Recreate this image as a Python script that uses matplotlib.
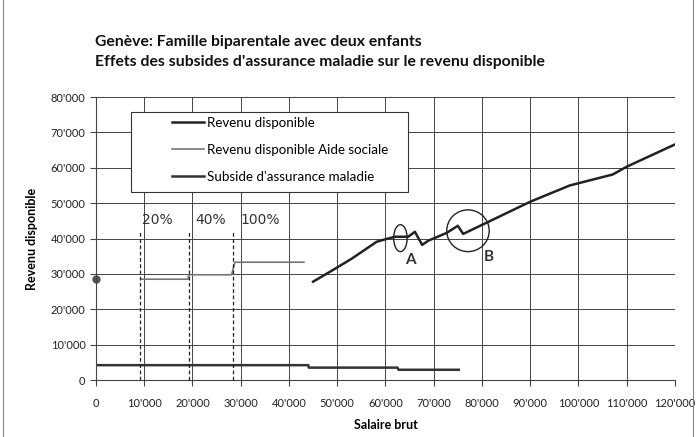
import matplotlib
matplotlib.use("Agg")
import matplotlib.pyplot as plt
from matplotlib.patches import Ellipse, Rectangle
from matplotlib.lines import Line2D
from matplotlib.ticker import FuncFormatter, MultipleLocator

plt.rcParams['font.family'] = ['Lato', 'DejaVu Sans']

# Revenu disponible (salaire brut, revenu)
rd_x = [45000, 48500, 53000, 58200, 60300, 62000, 64700, 66100, 67600, 68900,
        72700, 75000, 76100, 81000, 90000, 98200, 107100, 110000, 120000]
rd_y = [27800, 30600, 34300, 39100, 39900, 40500, 40500, 41900, 38200, 39400,
        41600, 43600, 41300, 44500, 50400, 55000, 58100, 60300, 66600]

# Revenu disponible Aide sociale
as_x = [9500, 19100, 19200, 28100, 28800, 43100]
as_y = [28500, 28500, 29750, 29750, 33300, 33300]

# Subside d'assurance maladie
sub_x = [0, 44000, 44100, 62500, 62700, 75200]
sub_y = [4200, 4200, 3500, 3500, 2900, 2900]

# point isolé à 0
dot_x, dot_y = [0], [28500]

# seuils (lignes pointillées) et taux
seuils = [9100, 19200, 28300]
taux = ["20%", "40%", "100%"]
taux_x = [12800, 23800, 34000]


def fmt(v, pos):
    if v == 0:
        return "0"
    return "{:,.0f}".format(v).replace(",", "'")


fig = plt.figure(figsize=(6.97, 4.37), dpi=100)
ax = fig.add_axes([0.1377, 0.1304, 0.8307, 0.6476])

ax.plot(rd_x, rd_y, color='#222222', lw=1.8, label="Revenu disponible")
ax.plot(as_x, as_y, color='#777777', lw=1.2, label="Revenu disponible Aide sociale")
ax.plot(sub_x, sub_y, color='#333333', lw=1.8, label="Subside d'assurance maladie")
ax.plot(dot_x, dot_y, 'o', color='#555555', ms=5, clip_on=False)

for s in seuils:
    ax.plot([s, s], [0, 42500], ls=(0, (3, 2)), color='#222222', lw=0.9)
for t, tx in zip(taux, taux_x):
    ax.text(tx, 45300, t, ha='center', va='center', fontsize=10,
            family=['DejaVu Sans'], color='#333333')

ax.add_patch(Ellipse((63100, 40100), 2800, 7600, fill=False, ec='#222222', lw=1.0))
ax.add_patch(Ellipse((77100, 42200), 8800, 11800, fill=False, ec='#222222', lw=1.0))
ax.text(65100, 34000, "A", fontsize=11, fontweight='bold', ha='center', va='center', color='#333333')
ax.text(81500, 34900, "B", fontsize=11, fontweight='bold', ha='center', va='center', color='#333333')

ax.set_xlim(0, 120000)
ax.set_ylim(0, 80000)
ax.xaxis.set_major_locator(MultipleLocator(10000))
ax.yaxis.set_major_locator(MultipleLocator(10000))
ax.xaxis.set_major_formatter(FuncFormatter(fmt))
ax.yaxis.set_major_formatter(FuncFormatter(fmt))
ax.grid(True, color='#444444', lw=0.7)
ax.set_axisbelow(True)
for sp in ['top', 'right']:
    ax.spines[sp].set_visible(False)
ax.spines['left'].set_color('#444444')
ax.spines['bottom'].set_color('#444444')
ax.tick_params(axis='both', labelsize=8, length=4, color='#444444', labelcolor='#222222')
ax.tick_params(axis='x', pad=9)

ax.set_xlabel("Salaire brut", fontsize=9, fontweight='bold', labelpad=7)
ax.set_ylabel("Revenu disponible", fontsize=9, fontweight='bold', labelpad=9)

# cadre de la légende (plus large que son contenu)
ax.add_patch(Rectangle((0.0605, 0.664), 0.4785, 0.283, transform=ax.transAxes,
                       facecolor='white', edgecolor='#333333', lw=0.8, zorder=4))
leg = ax.legend(loc='upper left', bbox_to_anchor=(0.131, 0.93), fontsize=9.6,
                frameon=False, handlelength=2.4, borderpad=0, labelspacing=1.12,
                handletextpad=0.25, borderaxespad=0)
leg.set_zorder(5)

fig.text(0.136, 0.905, "Genève: Famille biparentale avec deux enfants",
         fontsize=11.3, fontweight='bold', color='#111111', va='center')
fig.text(0.136, 0.857, "Effets des subsides d'assurance maladie sur le revenu disponible",
         fontsize=11.3, fontweight='bold', color='#111111', va='center')

for xf in (0.005, 0.994):
    fig.add_artist(Line2D([xf, xf], [0, 1], transform=fig.transFigure,
                          color='#888888', lw=0.8))

fig.savefig("out.png", dpi=100)
